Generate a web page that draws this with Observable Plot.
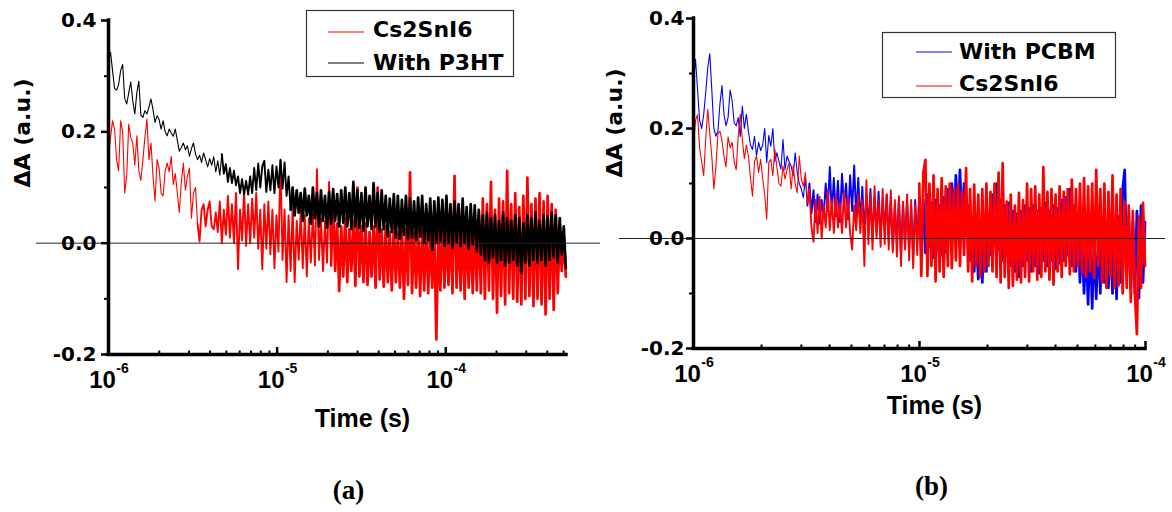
<!DOCTYPE html>
<html>
<head>
<meta charset="utf-8">
<script src="https://cdn.jsdelivr.net/npm/d3@7"></script>
<script src="https://cdn.jsdelivr.net/npm/@observablehq/plot@0.6"></script>
<style>
  html, body { margin: 0; padding: 0; background: #fff; }
  #wrap { position: relative; width: 1172px; height: 512px; overflow: hidden; background: #fff; }
  #wrap > svg { position: absolute; top: 0; }
</style>
</head>
<body>
<div id="wrap"></div>
<script>
// ---------------- DATA ----------------
// Panel (a): samples evenly spaced in log10(time), starting at 1e-6 s
const LEFT_STEP = 0.012;      // decades between samples
const LEFT_END_LOG = -3.284;  // end of the (a) time axis, log10(s)
const leftRed = [
  0.15,0.19,0.22,0.205,0.15,0.13,0.22,0.2,0.09,0.12,
  0.214,0.19,0.18,0.14,0.193,0.13,0.113,0.15,0.19,0.223,
  0.15,0.18,0.12,0.076,0.15,0.135,0.09,0.085,0.13,0.144,
  0.128,0.156,0.105,0.125,0.09,0.055,0.11,0.144,0.095,0.12,
  0.135,0.045,0.09,0.1,0.035,0.003,0.06,0.07,0.03,0.06,
  0.075,0.03,0.025,0.055,0.02,0.075,0.0,0.06,0.015,0.085,
  0.01,0.07,0.0,0.09,-0.047,0.06,0.005,0.095,-0.005,0.07,
  0.0,0.08,0.01,0.09,-0.01,0.06,-0.047,0.07,-0.01,0.075,
  -0.02,0.06,-0.045,0.05,-0.015,0.148,-0.03,0.06,-0.07,0.05,
  -0.05,0.065,-0.07,0.04,-0.03,0.06,-0.045,0.05,-0.06,0.045,
  -0.035,0.055,-0.04,0.133,-0.03,0.045,-0.05,0.04,-0.035,0.11,
  -0.04,0.085,-0.05,0.035,-0.086,0.03,-0.06,0.045,-0.07,0.025,
  -0.05,0.04,-0.077,0.1,-0.06,0.03,-0.07,0.035,-0.075,0.02,
  -0.06,0.03,-0.08,0.1,-0.065,0.025,-0.078,0.03,-0.07,0.02,
  -0.085,0.035,-0.07,0.02,-0.08,0.03,-0.1,0.025,-0.075,0.127,
  -0.09,0.02,-0.08,0.03,-0.095,0.025,-0.085,0.035,-0.09,0.02,
  -0.08,0.03,-0.173,0.025,-0.085,0.04,-0.08,0.03,-0.075,0.035,
  -0.09,0.121,-0.08,0.03,-0.085,0.04,-0.1,0.035,-0.08,0.03,
  -0.09,0.045,-0.085,0.05,-0.09,0.08,-0.1,0.07,-0.085,0.11,
  -0.1,0.06,-0.125,0.08,-0.095,0.075,-0.11,0.13,-0.09,0.07,
  -0.1,0.09,-0.105,0.065,-0.11,0.085,-0.1,0.118,-0.095,0.07,
  -0.113,0.08,-0.1,0.09,-0.11,0.075,-0.128,0.085,-0.1,0.07,
  -0.12,0.06,-0.09,0.02,-0.05,0.01,-0.06
];
const leftP3HT = [
  0.325,0.343,0.31,0.278,0.275,0.285,0.31,0.321,0.26,0.25,
  0.27,0.29,0.255,0.232,0.27,0.291,0.23,0.226,0.238,0.232,
  0.245,0.259,0.24,0.217,0.229,0.222,0.205,0.22,0.2,0.193,
  0.205,0.198,0.192,0.205,0.185,0.165,0.172,0.18,0.168,0.175,
  0.156,0.17,0.18,0.16,0.15,0.158,0.145,0.162,0.15,0.137,
  0.152,0.14,0.155,0.128,0.148,0.122,0.16,0.125,0.142,0.11,
  0.135,0.108,0.13,0.104,0.12,0.09,0.115,0.088,0.112,0.087,
  0.12,0.09,0.135,0.095,0.143,0.1,0.138,0.148,0.092,0.132,
  0.095,0.14,0.09,0.138,0.1,0.15,0.098,0.145,0.085,0.12,
  0.06,0.1,0.05,0.095,0.055,0.09,0.04,0.098,0.05,0.085,
  0.035,0.1,0.045,0.09,0.03,0.095,0.04,0.085,0.028,0.092,
  0.035,0.097,0.04,0.088,0.03,0.095,0.037,0.1,0.03,0.09,
  0.025,0.11,0.03,0.095,0.028,0.09,0.022,0.1,0.03,0.085,
  0.025,0.108,0.03,0.09,0.02,0.095,0.025,0.085,0.012,0.08,
  0.02,0.088,0.01,0.085,0.008,0.078,0.015,0.085,0.007,0.08,
  0.01,0.075,0.005,0.082,0.012,0.085,0.0,0.07,0.005,0.08,
  -0.012,0.075,0.0,0.082,0.004,0.078,-0.005,0.085,0.0,0.07,
  -0.008,0.075,0.002,0.07,-0.005,0.08,0.0,0.065,-0.01,0.07,
  -0.002,0.068,-0.015,0.06,-0.02,0.05,-0.03,0.055,-0.035,0.045,
  -0.025,0.05,-0.035,0.04,-0.03,0.055,-0.04,0.045,-0.035,0.04,
  -0.03,0.05,-0.04,0.045,-0.053,0.035,-0.035,0.05,-0.04,0.045,
  -0.03,0.055,-0.035,0.04,-0.03,0.05,-0.04,0.048,-0.03,0.055,
  -0.025,0.05,-0.035,0.045,-0.02,0.03,-0.045
];

// Panel (b)
const RIGHT_STEP = 0.009;
const RIGHT_END_LOG = -4;
const rightPCBM = [
  0.284,0.326,0.27,0.215,0.2,0.225,0.265,0.31,0.336,0.27,
  0.2,0.186,0.195,0.245,0.278,0.225,0.205,0.22,0.27,0.25,
  0.21,0.205,0.22,0.185,0.241,0.2,0.226,0.195,0.17,0.162,
  0.186,0.15,0.175,0.16,0.17,0.2,0.138,0.187,0.168,0.2,
  0.14,0.156,0.14,0.126,0.18,0.125,0.15,0.14,0.132,0.114,
  0.156,0.12,0.1,0.09,0.074,0.11,0.06,0.1,0.045,0.088,
  0.03,0.08,0.027,0.07,0.04,0.1,0.05,0.13,0.045,0.11,
  0.04,0.105,0.03,0.118,0.06,0.1,0.035,0.115,0.05,0.133,
  0.04,0.11,0.027,0.094,0.01,0.08,0.02,0.09,-0.003,0.075,
  0.01,0.085,0.0,0.07,0.015,0.08,-0.005,0.07,-0.02,0.06,
  -0.01,0.073,-0.03,0.065,-0.015,0.07,-0.02,0.06,-0.03,0.07,
  -0.01,0.075,-0.02,0.07,-0.026,0.08,-0.015,0.065,-0.035,0.07,
  -0.02,0.06,-0.03,0.075,-0.025,0.09,0.01,0.1,0.02,0.115,
  0.01,0.125,0.015,0.1,0.005,0.06,-0.04,0.03,-0.06,0.02,
  -0.074,0.01,-0.08,0.03,-0.06,0.04,-0.03,0.08,-0.01,0.1,
  -0.02,0.07,-0.04,0.06,-0.03,0.065,-0.05,0.05,-0.06,0.045,
  -0.07,0.05,-0.05,0.06,-0.04,0.055,-0.06,0.06,-0.05,0.05,
  -0.063,0.055,-0.04,0.065,-0.05,0.05,-0.04,0.06,-0.055,0.055,
  -0.045,0.07,-0.04,0.075,-0.03,0.09,-0.05,0.06,-0.06,0.03,
  -0.08,0.0,-0.1,-0.01,-0.12,0.007,-0.127,-0.005,-0.11,0.005,
  -0.1,0.02,-0.08,0.03,-0.09,0.01,-0.1,0.02,-0.11,0.04,
  -0.08,0.09,0.125,-0.05,0.04,-0.09,0.03,-0.1,0.05,-0.108,
  0.06,-0.08,0.03
];
const rightRed = [
  0.17,0.215,0.225,0.165,0.14,0.114,0.18,0.235,0.19,0.15,
  0.09,0.13,0.19,0.195,0.178,0.15,0.13,0.185,0.165,0.175,
  0.14,0.125,0.187,0.226,0.18,0.145,0.17,0.15,0.11,0.077,
  0.14,0.15,0.12,0.144,0.11,0.08,0.035,0.138,0.144,0.114,
  0.162,0.13,0.1,0.095,0.132,0.108,0.125,0.138,0.09,0.132,
  0.1,0.083,0.15,0.108,0.095,0.12,0.065,0.09,0.02,-0.006,
  0.07,0.01,0.076,0.0,0.06,0.02,0.088,0.015,0.07,0.01,
  0.08,0.02,0.065,0.01,0.085,0.02,0.075,0.01,-0.02,0.06,
  0.015,0.08,0.01,0.07,-0.05,0.106,-0.01,0.08,-0.02,0.095,
  0.0,0.07,-0.015,0.09,-0.01,0.08,-0.02,0.088,-0.025,0.07,
  -0.033,0.077,-0.05,0.067,-0.02,0.08,-0.04,0.07,-0.054,0.06,
  -0.03,0.1,-0.068,0.12,0.143,-0.068,0.1,-0.05,0.115,-0.078,
  0.09,-0.06,0.11,-0.07,0.095,-0.05,0.1,-0.054,0.09,-0.04,
  0.1,-0.05,0.085,-0.03,0.128,-0.06,0.09,-0.078,0.098,-0.05,
  0.08,-0.07,0.09,-0.06,0.1,-0.05,0.085,-0.06,0.1,-0.07,
  0.12,-0.08,0.137,-0.07,0.067,-0.09,0.08,-0.086,0.06,-0.075,
  0.083,-0.08,0.07,-0.07,0.1,-0.078,0.09,-0.06,0.095,-0.075,
  0.08,-0.07,0.13,-0.06,0.085,-0.075,0.09,-0.084,0.08,-0.06,
  0.095,-0.07,0.085,-0.05,0.09,-0.065,0.107,-0.06,0.09,-0.05,
  0.1,-0.062,0.11,-0.07,0.095,-0.06,0.1,-0.072,0.125,-0.05,
  0.09,-0.08,0.1,-0.09,0.085,-0.07,0.115,-0.09,0.08,-0.085,
  0.09,-0.1,0.067,-0.09,0.06,-0.115,0.05,-0.1,-0.174,0.04,
  -0.09,0.065,-0.05
];

// Axis ticks and labels
const yMajorTicks = [-0.2, 0.0, 0.2, 0.4];
const yMinorTicks = [-0.1, 0.1, 0.3];
const decadeTicks = [1e-6, 1e-5, 1e-4];
const minorMultipliers = [2, 3, 4, 5, 6, 7, 8, 9];
const yTitle = "ΔA (a.u.)";
const xTitle = "Time (s)";
const panelLabels = ["(a)", "(b)"];
const legendLeft = [{label: "Cs2SnI6", color: "#ff0000"}, {label: "With P3HT", color: "#000000"}];
const legendRight = [{label: "With PCBM", color: "#0000ff"}, {label: "Cs2SnI6", color: "#ff0000"}];

// ---------------- BUILD ----------------
const rows = (values, step) => values.map((v, i) => ({i, t: Math.pow(10, -6 + i * step), v}));
const minorTicks = (end) => decadeTicks.flatMap(d => minorMultipliers.map(m => m * d)).filter(t => t <= end * 1.0001);

const sans = "Liberation Sans, Arial, sans-serif";
const dejavu = "DejaVu Sans, sans-serif";
const serif = "Liberation Serif, Times New Roman, serif";

// sparse early part is drawn thin; the dense noisy part gets a wider pen so it fills like the scan
function seriesMarks(s) {
  const [k1, k2] = s.breaks;
  const parts = [
    {d: s.data.filter(r => r.i <= k1), w: 1.1},
    {d: s.data.filter(r => r.i >= k1 && r.i <= k2), w: 1.9},
    {d: s.data.filter(r => r.i >= k2), w: 2.7}
  ];
  return parts.map(p => Plot.line(p.d, {x: "t", y: "v", stroke: s.color, strokeWidth: p.w, strokeLinejoin: "round"}));
}

function panel(opts) {
  const {width, ml, mr, mt, mb, end, series, zeroInsetL, zeroInsetR, label, xTitleDx, xTitleDy, labelDx, labelDy, yTitleDx, yTitleDy, yPad} = opts;
  return Plot.plot({
    width, height: 512,
    marginLeft: ml, marginRight: mr, marginTop: mt, marginBottom: mb,
    style: {background: "transparent", overflow: "visible"},
    x: {type: "log", domain: [1e-6, end]},
    y: {domain: [-0.2, 0.4]},
    marks: [
      ...series.flatMap(seriesMarks),
      Plot.ruleY([0], {stroke: "#222", strokeWidth: 1, insetLeft: zeroInsetL, insetRight: zeroInsetR}),
      Plot.ruleX([1e-6], {stroke: "#000", strokeWidth: 3.5, strokeLinecap: "square"}),
      Plot.ruleY([-0.2], {stroke: "#000", strokeWidth: 3.5, strokeLinecap: "square"}),
      Plot.axisY({ticks: yMajorTicks, tickSize: 7, tickPadding: yPad, strokeWidth: 2.5, label: null,
        tickFormat: d => d.toFixed(1), fontSize: 20, fontWeight: "bold", fontFamily: dejavu, fill: "#000"}),
      Plot.axisY({ticks: yMinorTicks, tickSize: 4, strokeWidth: 2, label: null, tickFormat: () => ""}),
      Plot.axisX({ticks: decadeTicks.filter(t => t <= end * 1.0001), tickSize: -7, strokeWidth: 2.5, label: null, tickFormat: () => ""}),
      Plot.axisX({ticks: minorTicks(end), tickSize: -3.5, strokeWidth: 2, label: null, tickFormat: () => ""}),
      Plot.axisX({ticks: decadeTicks, tickSize: 0, tickPadding: 16, label: null, tickFormat: () => "10",
        fontSize: 24, fontWeight: "bold", fontFamily: sans, dx: -6, fill: "#000"}),
      Plot.axisX({ticks: decadeTicks, tickSize: 0, tickPadding: 9, label: null, tickFormat: d => String(Math.round(Math.log10(d))),
        fontSize: 14, fontWeight: "bold", fontFamily: sans, dx: 14, fill: "#000"}),
      Plot.text([yTitle], {frameAnchor: "left", rotate: -90, dx: yTitleDx, dy: yTitleDy,
        fontSize: 22, fontWeight: "bold", fontFamily: dejavu, fill: "#000"}),
      Plot.text([xTitle], {frameAnchor: "bottom", lineAnchor: "bottom", dx: xTitleDx, dy: xTitleDy,
        fontSize: 25, fontWeight: "bold", fontFamily: sans, fill: "#000"}),
      Plot.text([label], {frameAnchor: "bottom", lineAnchor: "bottom", dx: labelDx, dy: labelDy,
        fontSize: 27, fontWeight: "bold", fontFamily: serif, fill: "#000"})
    ]
  });
}

const left = panel({
  width: 600, ml: 108, mr: 34, mt: 20, mb: 158, end: Math.pow(10, LEFT_END_LOG),
  series: [
    {data: rows(leftRed, LEFT_STEP), color: "#ff0000", breaks: [44, 110]},
    {data: rows(leftP3HT, LEFT_STEP), color: "#000000", breaks: [56, 90]}
  ],
  zeroInsetL: -72, zeroInsetR: -34, label: panelLabels[0],
  xTitleDx: 25, xTitleDy: 72, labelDx: 11, labelDy: 144, yTitleDx: -86, yTitleDy: 0, yPad: 5
});
const right = panel({
  width: 572, ml: 93, mr: 27, mt: 18, mb: 164, end: Math.pow(10, RIGHT_END_LOG),
  series: [
    {data: rows(rightPCBM, RIGHT_STEP), color: "#0000ff", breaks: [56, 111]},
    {data: rows(rightRed, RIGHT_STEP), color: "#ff0000", breaks: [56, 111]}
  ],
  zeroInsetL: -74, zeroInsetR: -20, label: panelLabels[1],
  xTitleDx: 15, xTitleDy: 65, labelDx: 12, labelDy: 146, yTitleDx: -79, yTitleDy: -6, yPad: 2
});

const wrap = document.getElementById("wrap");
left.style.left = "0px";
right.style.left = "600px";
wrap.appendChild(left);
wrap.appendChild(right);

// ---------------- LEGENDS ----------------
const overlay = d3.select(wrap).append("svg")
  .attr("width", 1172).attr("height", 512)
  .style("position", "absolute").style("left", "0px").style("top", "0px")
  .style("pointer-events", "none");

function legend(box, entries, lineX1, lineX2, textX, lineYs, textYs) {
  overlay.append("rect").attr("x", box[0] + 0.5).attr("y", box[1] + 0.5)
    .attr("width", box[2]).attr("height", box[3])
    .attr("fill", "#fff").attr("stroke", "#333").attr("stroke-width", 1.2);
  entries.forEach((e, i) => {
    overlay.append("line").attr("x1", lineX1).attr("x2", lineX2)
      .attr("y1", lineYs[i]).attr("y2", lineYs[i])
      .attr("stroke", e.color).attr("stroke-width", 1.2);
    overlay.append("text").attr("x", textX).attr("y", textYs[i])
      .attr("font-family", dejavu).attr("font-weight", "bold").attr("font-size", 22)
      .attr("fill", "#000").text(e.label);
  });
}
legend([306, 10, 207, 66], legendLeft, 328, 364, 373, [32, 63], [37, 70]);
legend([882, 32, 233, 65], legendRight, 916, 952, 959, [52, 86], [59, 91]);
</script>
</body>
</html>
